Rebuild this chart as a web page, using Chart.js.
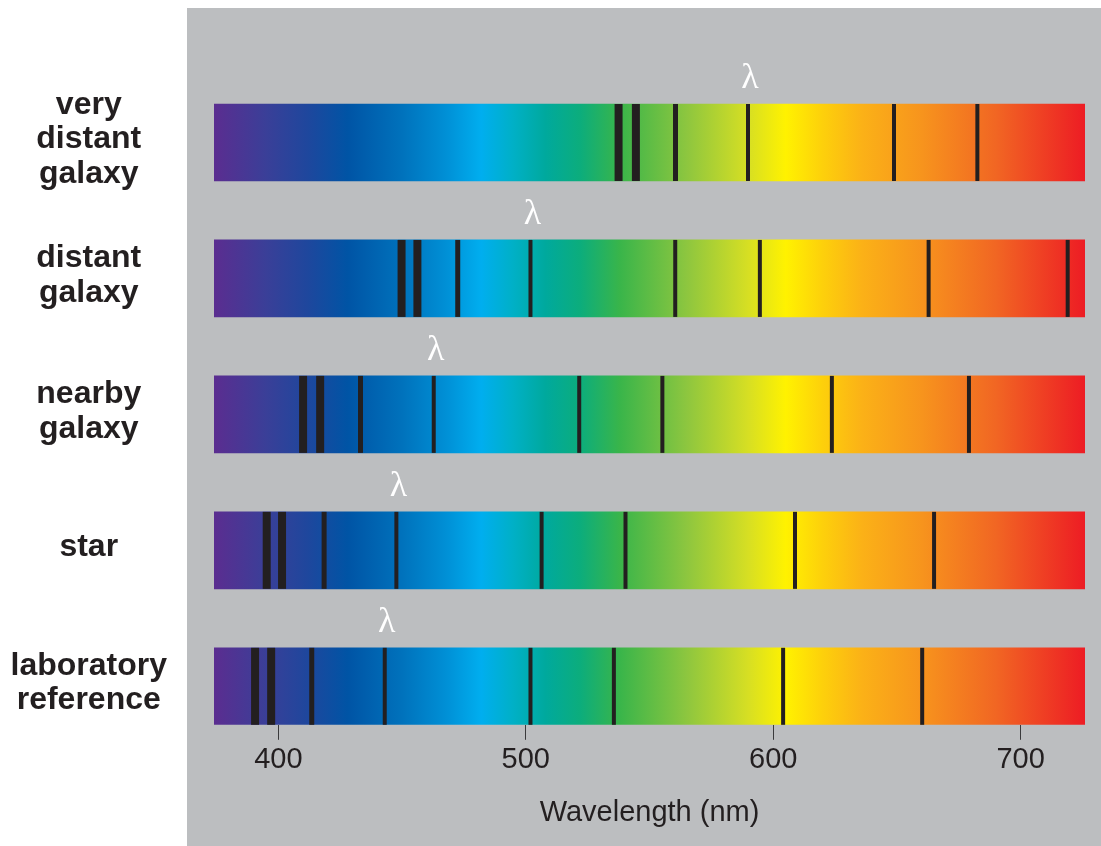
<!DOCTYPE html>
<html>
<head>
<meta charset="utf-8">
<script src="https://cdn.jsdelivr.net/npm/chart.js@4"></script>
<style>
  html, body { margin: 0; padding: 0; background: #fff; }
  .canvas-container { width: 1101px; height: 846px; position: relative; }
</style>
</head>
<body>
<div class="canvas-container"><canvas id="spectra-chart"></canvas></div>
<script>
// rows, top to bottom
const rows = ['very distant galaxy', 'distant galaxy', 'nearby galaxy', 'star', 'laboratory reference'];

// absorption line wavelengths (nm)
const veryDistantLines = [537.5, 544.5, 560.5, 589.8, 648.8, 682.5];
const distantLines = [449.8, 456.2, 472.5, 501.9, 560.4, 594.6, 662.8, 719.0];
const nearbyLines = [410.0, 416.9, 433.2, 462.8, 521.6, 555.2, 623.7, 679.1];
const starLines = [395.3, 401.5, 418.5, 447.7, 506.4, 540.3, 608.8, 665.0];
const labLines = [390.6, 397.1, 413.5, 443.0, 501.9, 535.6, 604.0, 660.2];
const lineSets = [veryDistantLines, distantLines, nearbyLines, starLines, labLines];

// the line marked with a lambda in every spectrum
const lambdaIndex = 3;

// visible range of each spectrum strip and axis ticks
const spectrumRange = [374, 726];
const xTicks = [400, 500, 600, 700];

// styles
const lineWidths = [8, 8, 5, 4, 4, 4, 4, 4];
const spectrumStops = [
    [374, '#5B2D90'], [395, '#3A3F98'], [412, '#1E479D'], [428, '#0054A5'],
    [450, '#0072BC'], [468, '#0090D6'], [482, '#00AEEF'], [495, '#00B0C6'],
    [508, '#00A99D'], [522, '#0CAD7C'], [538, '#39B54A'], [565, '#8DC63F'],
    [590, '#D7DF23'], [605, '#FFF200'], [620, '#FDD00B'], [636, '#FBB117'],
    [660, '#F7941D'], [690, '#F16623'], [726, '#ED1C24']
];
const FONT = "'Liberation Sans', Arial, Helvetica, sans-serif";
const TEXT = '#231F20';
const BAR_H = 77;

function spectrumFill(c) {
    const chart = c.chart;
    const x = chart.scales.x;
    if (!chart.chartArea || !x) return '#00AEEF';
    const x0 = x.getPixelForValue(spectrumRange[0]);
    const x1 = x.getPixelForValue(spectrumRange[1]);
    const g = chart.ctx.createLinearGradient(x0, 0, x1, 0);
    spectrumStops.forEach(s => {
        g.addColorStop((s[0] - spectrumRange[0]) / (spectrumRange[1] - spectrumRange[0]), s[1]);
    });
    return g;
}

const linePoints = [];
lineSets.forEach((set, r) => {
    set.forEach((nm, j) => linePoints.push({ x: nm, y: r, w: lineWidths[j] }));
});

const panelPlugin = {
    id: 'panel',
    beforeDraw(chart) {
        const { ctx, chartArea } = chart;
        ctx.save();
        ctx.fillStyle = '#BCBEC0';
        ctx.fillRect(chartArea.left - 27, 8, chart.width, chart.height);
        ctx.restore();
    }
};

const lambdaPlugin = {
    id: 'lambda',
    afterDatasetsDraw(chart) {
        const { ctx, scales } = chart;
        ctx.save();
        ctx.fillStyle = '#FFFFFF';
        ctx.font = "36px 'Liberation Serif', 'Times New Roman', serif";
        ctx.textAlign = 'center';
        ctx.textBaseline = 'alphabetic';
        lineSets.forEach((set, r) => {
            const px = scales.x.getPixelForValue(set[lambdaIndex]) + 2;
            const py = scales.y.getPixelForValue(r) - BAR_H / 2 - 16;
            ctx.fillText('\u03BB', px, py);
        });
        ctx.restore();
    }
};

const ctx = document.getElementById('spectra-chart').getContext('2d');
const chart = new Chart(ctx, {
    type: 'bar',
    data: {
        datasets: [
            {
                type: 'scatter',
                data: linePoints,
                order: 0,
                showLine: false,
                pointStyle: 'line',
                pointRotation: 90,
                pointRadius: BAR_H / 2,
                pointBorderColor: '#231F20',
                pointBorderWidth: c => (c.raw ? c.raw.w : 4),
                clip: false
            },
            {
                type: 'bar',
                indexAxis: 'y',
                data: rows.map((_, i) => ({ y: i, x: spectrumRange })),
                order: 1,
                barThickness: BAR_H,
                backgroundColor: spectrumFill,
                borderWidth: 0,
                borderSkipped: false
            }
        ]
    },
    options: {
        responsive: true,
        maintainAspectRatio: false,
        animation: false,
        events: [],
        layout: { autoPadding: false, padding: { top: 74.5, right: 16, bottom: 0, left: 0 } },
        plugins: {
            legend: { display: false },
            tooltip: { enabled: false }
        },
        scales: {
            x: {
                type: 'linear',
                position: 'bottom',
                offset: false,
                min: spectrumRange[0],
                max: spectrumRange[1],
                afterBuildTicks: s => { s.ticks = xTicks.map(v => ({ value: v })); },
                grid: { display: true, offset: false, drawOnChartArea: false, drawTicks: true, tickLength: 15, color: '#3A3A3C', lineWidth: 1 },
                border: { display: false },
                ticks: { color: TEXT, padding: 3, font: { family: FONT, size: 29 } },
                title: {
                    display: true,
                    text: 'Wavelength (nm)',
                    color: TEXT,
                    font: { family: FONT, size: 29 },
                    padding: { top: 15, bottom: 15.6 }
                }
            },
            y: {
                type: 'linear',
                position: 'left',
                reverse: true,
                offset: false,
                beginAtZero: false,
                min: -0.5,
                max: 4.283,
                afterBuildTicks: s => { s.ticks = rows.map((_, i) => ({ value: i })); },
                afterFit: s => { s.width = 214; },
                // tick marks hidden; their length only spaces the row names from the strips
                grid: { display: false, offset: false, drawTicks: true, tickLength: 47 },
                border: { display: false },
                ticks: {
                    color: TEXT,
                    padding: 0,
                    crossAlign: 'center',
                    labelOffset: -3,
                    font: { family: FONT, size: 32, weight: 'bold', lineHeight: 1.08 },
                    callback: v => (rows[v] ? rows[v].split(' ') : '')
                }
            }
        }
    },
    plugins: [panelPlugin, lambdaPlugin]
});
</script>
</body>
</html>
